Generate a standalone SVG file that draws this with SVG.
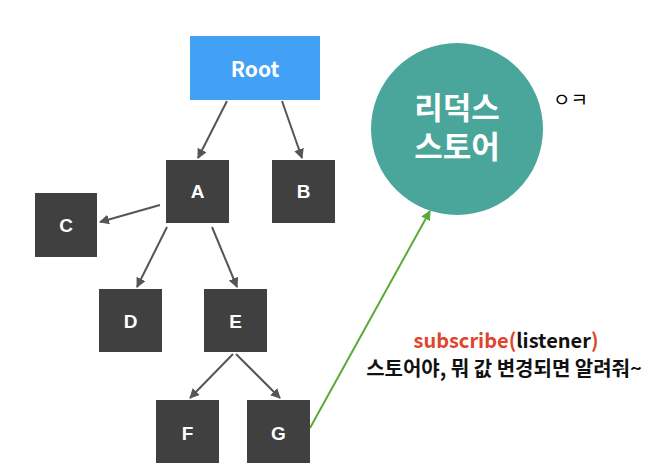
<svg xmlns="http://www.w3.org/2000/svg" width="666" height="472" viewBox="0 0 666 472">
<style>
.box{fill:#404040}
.lbl{fill:#fff;font-family:"Liberation Sans",Arial,sans-serif;font-weight:bold;font-size:19px;text-anchor:middle}
.edge{stroke:#555;stroke-width:2;fill:none;marker-end:url(#ah)}
.ko{font-family:"Noto Sans CJK KR","Noto Sans",sans-serif;font-weight:bold;text-anchor:middle}
</style>
<defs>
<marker id="ah" viewBox="0 0 10 10" refX="9" refY="5" markerWidth="5" markerHeight="5" orient="auto"><path d="M0,0 L10,5 L0,10 z" fill="#555"/></marker>
<marker id="ahg" viewBox="0 0 10 10" refX="9" refY="5" markerWidth="5" markerHeight="5" orient="auto"><path d="M0,0 L10,5 L0,10 z" fill="#5aaa3a"/></marker>
</defs>
<rect width="666" height="472" fill="#fff"/>
<g id="connectors">
<line class="edge" x1="227" y1="101" x2="198" y2="158"/>
<line class="edge" x1="282" y1="101" x2="302" y2="158"/>
<line class="edge" x1="160" y1="205" x2="100" y2="222"/>
<line class="edge" x1="167" y1="227" x2="137" y2="287"/>
<line class="edge" x1="212" y1="227" x2="237" y2="287"/>
<line class="edge" x1="233" y1="354" x2="190" y2="398"/>
<line class="edge" x1="236" y1="354" x2="280" y2="398"/>
<line x1="310" y1="428" x2="430" y2="211" stroke="#5aaa3a" stroke-width="2" marker-end="url(#ahg)"/>
</g>
<g id="root"><rect x="190" y="36" width="130" height="64" fill="#42a0f5"/><text class="ko" x="255" y="77" fill="#fff" font-size="21">Root</text></g>
<g id="A"><rect class="box" x="166" y="160" width="63" height="63"/><text class="lbl" x="197.5" y="198">A</text></g>
<g id="B"><rect class="box" x="272" y="160" width="63" height="63"/><text class="lbl" x="303.5" y="198">B</text></g>
<g id="C"><rect class="box" x="35" y="193" width="62" height="64"/><text class="lbl" x="66" y="232">C</text></g>
<g id="D"><rect class="box" x="99" y="289" width="63" height="63"/><text class="lbl" x="130.5" y="328">D</text></g>
<g id="E"><rect class="box" x="204" y="289" width="63" height="63"/><text class="lbl" x="235.5" y="328">E</text></g>
<g id="F"><rect class="box" x="156" y="400" width="63" height="63"/><text class="lbl" x="187.5" y="440">F</text></g>
<g id="G"><rect class="box" x="247" y="400" width="63" height="63"/><text class="lbl" x="278.5" y="440">G</text></g>
<g id="store"><circle cx="457" cy="129" r="86" fill="#4aa69a"/><text class="ko" x="457" y="119" fill="#fff" font-size="31">리덕스</text><text class="ko" x="457" y="158" fill="#fff" font-size="31">스토어</text></g>
<text x="553" y="107" font-family="Noto Sans CJK KR,sans-serif" font-size="19" fill="#000">ㅇㅋ</text>
<text class="ko" x="506" y="348" font-size="20" fill="#e0442a">subscribe(<tspan fill="#111">listener</tspan>)</text>
<text class="ko" x="504" y="376" font-size="20" fill="#111">스토어야, 뭐 값 변경되면 알려줘~</text>
</svg>
